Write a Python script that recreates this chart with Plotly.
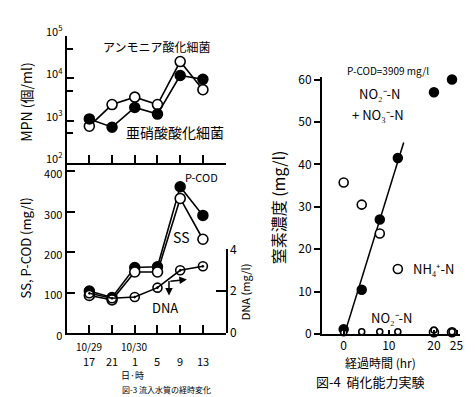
import numpy as np
import plotly.graph_objects as go

W, H = 475, 397
FONT = "Noto Sans CJK JP"

# ---------------- data: left figure (図-3) ----------------
pos = [1, 2, 3, 4, 5, 6]
hours = ["17", "21", "1", "5", "9", "13"]
dates = ["10/29", "", "10/30", "", "", ""]
ammonia_ox = [740, 2400, 3600, 2400, 25000, 5400]       # アンモニア酸化細菌 MPN
nitrite_ox = [1100, 700, 2050, 1430, 11700, 9500]       # 亜硝酸酸化細菌 MPN
p_cod = [104, 88, 162, 164, 362, 291]
ss = [93, 82, 151, 151, 333, 232]
dna = [1.9, 1.66, 1.72, 2.17, 3.0, 3.19]
mpn_tickvals = [100, 1000, 10000, 100000]
mpn_ticktext = ["10<sup>2</sup>", "10<sup>3</sup>", "10<sup>4</sup>", "10<sup>5</sup>"]
mpn_minor = [500, 5000, 50000]
conc_ticks = [0, 100, 200, 300, 400]
dna_ticks = [0, 2, 4]

# ---------------- data: right figure (図-4) ----------------
t_hr = [0, 4, 8, 12, 20, 24]
nox_n = [1.1, 10.4, 27.0, 41.5, 57.0, 60.0]     # NO2-N + NO3-N
nh4_n = [35.7, 30.5, 23.7, 15.3, 0.4, 0.4]
no2_n = [0.3, 0.5, 0.5, 0.5, 0.9, 0.5]
n_ticks = [0, 10, 20, 30, 40, 50, 60]
t_ticks = [0, 10, 20, 25]
fit_n = 4  # regression over first four points


def px(x):
    return x / W


def py(y):
    return 1 - y / H


fig = go.Figure()

blk = "black"
line_style = dict(color=blk, width=1.6)
filled = dict(symbol="circle", size=10, color=blk, line=dict(color=blk, width=1.5))
opened = dict(symbol="circle", size=10, color="white", line=dict(color=blk, width=1.6))

# top panel: MPN
fig.add_trace(go.Scatter(x=pos, y=ammonia_ox, mode="lines+markers", line=line_style,
                         marker=opened, xaxis="x", yaxis="y", cliponaxis=False))
fig.add_trace(go.Scatter(x=pos, y=nitrite_ox, mode="lines+markers", line=line_style,
                         marker=filled, xaxis="x", yaxis="y", cliponaxis=False))
# bottom panel
fig.add_trace(go.Scatter(x=pos, y=p_cod, mode="lines+markers", line=line_style,
                         marker=filled, xaxis="x2", yaxis="y2", cliponaxis=False))
fig.add_trace(go.Scatter(x=pos, y=ss, mode="lines+markers", line=line_style,
                         marker=opened, xaxis="x2", yaxis="y2", cliponaxis=False))
fig.add_trace(go.Scatter(x=pos, y=dna, mode="lines+markers", line=line_style,
                         marker=dict(symbol="circle-open-dot", size=9, color=blk,
                                     line=dict(width=1.6)),
                         xaxis="x2", yaxis="y3", cliponaxis=False))

# right figure
coef = np.polyfit(t_hr[:fit_n], nox_n[:fit_n], 1)
t_line = np.array([-coef[1] / coef[0], 13.3])
fig.add_trace(go.Scatter(x=t_line, y=np.polyval(coef, t_line), mode="lines",
                         line=dict(color=blk, width=1.5), xaxis="x3", yaxis="y4"))
fig.add_trace(go.Scatter(x=t_hr, y=nox_n, mode="markers", marker=dict(filled, size=9),
                         xaxis="x3", yaxis="y4", cliponaxis=False))
fig.add_trace(go.Scatter(x=t_hr, y=nh4_n, mode="markers", marker=dict(opened, size=9),
                         xaxis="x3", yaxis="y4", cliponaxis=False))
fig.add_trace(go.Scatter(x=t_hr, y=no2_n, mode="markers", marker=dict(opened, size=6),
                         xaxis="x3", yaxis="y4", cliponaxis=False))

tickfont = dict(family=FONT, size=12, color=blk)
axis_common = dict(showgrid=False, zeroline=False, showline=True, linecolor=blk,
                   linewidth=2, tickcolor=blk, tickwidth=1.5, tickfont=tickfont)

fig.update_layout(
    width=W, height=H, margin=dict(l=0, r=0, t=0, b=0),
    paper_bgcolor="white", plot_bgcolor="rgba(0,0,0,0)", showlegend=False,
    font=dict(family=FONT, color=blk),
    xaxis=dict(axis_common, domain=[px(59), px(219)], range=[0, 7], anchor="y",
               tickvals=pos, ticks="inside", ticklen=8, showticklabels=False),
    yaxis=dict(axis_common, domain=[py(150), py(15)], type="log", range=[2, 5],
               anchor="x", tickvals=mpn_tickvals, ticktext=mpn_ticktext,
               ticks="inside", ticklen=7, tickfont=dict(tickfont, size=11),
               ticklabelshift=-4,
               minor=dict(tickvals=mpn_minor, ticks="inside", ticklen=6,
                          tickcolor=blk, tickwidth=1.5, showgrid=False)),
    xaxis2=dict(axis_common, domain=[px(59), px(219)], range=[0, 7], anchor="y2",
                tickvals=pos, ticks="inside", ticklen=8, showticklabels=False),
    yaxis2=dict(axis_common, domain=[py(331), py(150)],
                range=[0, 400 * (331 - 150) / (331 - 159)], anchor="x2",
                tickvals=conc_ticks, ticks="inside", ticklen=8,
                tickfont=dict(tickfont, size=11), ticklabelshift=3),
    yaxis3=dict(axis_common, domain=[py(331), py(242)], range=[0, 4], anchor="x2",
                side="right", tickvals=dna_ticks, ticks="inside", ticklen=10),
    xaxis3=dict(axis_common, domain=[px(316), px(455)], range=[-4.8, 25.8], anchor="y4",
                tickvals=t_ticks, ticks="inside", ticklen=4),
    yaxis4=dict(axis_common, domain=[py(332), py(59)], range=[0, 60.5], anchor="x3",
                tickvals=n_ticks, ticks="outside", ticklen=6),
)

ann = []


def label(x, y, text, size=12, angle=0, **kw):
    ann.append(dict(xref="paper", yref="paper", x=px(x), y=py(y), text=text,
                    showarrow=False, textangle=angle, xanchor="center", yanchor="middle",
                    font=dict(family=FONT, size=size, color=blk), **kw))


# left figure texts
label(150, 26, "アンモニア酸化細菌", 12)
label(168, 117, "亜硝酸酸化細菌", 14)
label(195, 165, "P-COD", 11)
label(174, 229, "SS", 14)
label(158, 304, "DNA", 13)
label(18, 85, "MPN (個/ml)", 14, -90)
label(18, 240, "SS, P-COD (mg/l)", 13, -90)
label(238, 287, "DNA (mg/l)", 11, -90)
for p, d, h in zip(pos, dates, hours):
    if d:
        ann.append(dict(xref="x2", yref="paper", x=p, y=py(345), text=d, showarrow=False,
                        yanchor="middle", font=dict(family=FONT, size=10, color=blk)))
    ann.append(dict(xref="x2", yref="paper", x=p, y=py(361), text=h, showarrow=False,
                    yanchor="middle", font=dict(family=FONT, size=11, color=blk)))
label(125, 376, "日·時", 9)
label(160, 391, "図-3 流入水質の経時変化", 8)

# arrows for DNA (right axis)
ann.append(dict(xref="paper", yref="paper", x=px(162), y=py(291), ax=0, ay=-16,
                showarrow=True, arrowhead=2, arrowsize=1, arrowwidth=1.5, arrowcolor=blk,
                text=""))
ann.append(dict(xref="paper", yref="paper", x=px(180), y=py(274), ax=-18, ay=2,
                showarrow=True, arrowhead=2, arrowsize=1, arrowwidth=1.5, arrowcolor=blk,
                text=""))

# right figure texts
label(382, 52, "P-COD=3909 mg/l", 10)
label(374, 76, "NO₂⁻-N", 13)
label(372, 98, "+ NO₃⁻-N", 13)
label(428, 262, "NH₄⁺-N", 13)
label(386, 315, "NO₂⁻-N", 13)
label(272, 197, "窒素濃度 (mg/l)", 16, -90)
label(375, 362, "経過時間 (hr)", 12)
label(365, 383, "図-4  硝化能力実験", 13)

fig.update_layout(annotations=ann)
fig.write_html("out.html")
